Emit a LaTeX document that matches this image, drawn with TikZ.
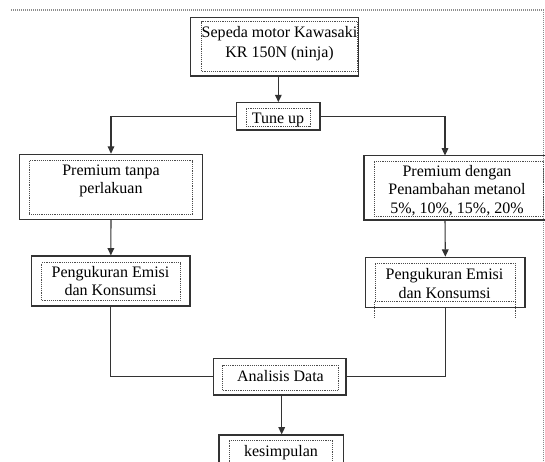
\documentclass[tikz,border=0pt]{standalone}
\usepackage{fontspec}
\setmainfont{Liberation Serif}
\usetikzlibrary{fit,arrows.meta}
\begin{document}
\begin{tikzpicture}[x=0.75pt,y=-0.75pt,
  outerbox/.style={draw=black!80,line width=0.9pt,inner sep=0pt},
  innerbox/.style={draw=black!70,line width=0.6pt,dash pattern=on 0.7pt off 0.7pt,inner sep=0pt},
  dotline/.style={draw=black!70,line width=0.6pt,dash pattern=on 0.7pt off 0.7pt},
  framel/.style={draw=black!45,line width=0.9pt,dash pattern=on 0.75pt off 0.75pt},
  lbl/.style={anchor=north,inner sep=0pt,align=center,font=\fontsize{12pt}{13.8pt}\selectfont},
  conn/.style={draw=black!80,line width=0.8pt},
  arr/.style={conn,-{Triangle[length=5.5pt,width=5pt]}}]
\useasboundingbox (0,0) rectangle (545,461);
\clip (0,0) rectangle (545,461);
% page frame
\draw[framel] (11,10) -| (543.3,470);
% boxes
\node[outerbox,fit={(190.7,17.3) (358.3,76)}] (topb) {};
\node[innerbox,fit={(201.7,21.7) (357.3,71)}] (topi) {};
\node[lbl,font=\fontsize{12pt}{14.8pt}\selectfont] (topt) at (279.5,26.6) {Sepeda motor Kawasaki\\KR 150N (ninja)};

\node[outerbox,fit={(236.7,102.7) (320,130)}] (tune) {};
\node[innerbox,fit={(246,108.3) (310,126.7)}] (tunei) {};
\node[lbl] (tunet) at (278,112.6) {Tune up};

\node[outerbox,fit={(19.3,154.3) (202.7,219.3)}] (pt) {};
\node[innerbox,fit={(29.3,160.7) (192.7,214.3)}] (pti) {};
\node[lbl] (ptt) at (111,164.4) {Premium tanpa\\perlakuan};

\node[outerbox,fit={(364,155.5) (547,220)}] (pd) {};
\node[innerbox,fit={(374,161) (543,216)}] (pdi) {};
\node[lbl] (pdt) at (457,165.1) {Premium dengan\\Penambahan metanol\\5\%, 10\%, 15\%, 20\%};

\node[outerbox,fit={(31.7,256) (190,306)}] (pkl) {};
\node[innerbox,fit={(41.7,262.7) (180,300.7)}] (pkli) {};
\node[lbl] (pklt) at (110.5,265.8) {Pengukuran Emisi\\dan Konsumsi};

\node[outerbox,fit={(365.7,257.3) (525,307.7)}] (pkr) {};
\node[innerbox,fit={(375,263.3) (515,301.7)}] (pkri) {};
\node[lbl] (pkrt) at (444.5,268.4) {Pengukuran Emisi\\dan Konsumsi};
\draw[dotline] (pkri.south west) -- ++(0,16.5);
\draw[dotline] (pkri.south east) -- ++(0,16.5);

\node[outerbox,fit={(213.3,358.3) (346,395)}] (an) {};
\node[innerbox,fit={(222.7,365) (338.3,390)}] (ani) {};
\node[lbl] (ant) at (280.5,369.8) {Analisis Data};

\node[outerbox,fit={(219,435) (343.3,480)}] (ks) {};
\node[innerbox,fit={(229.3,440) (332.7,475)}] (ksi) {};
\node[lbl] (kst) at (281,445.1) {kesimpulan};

% connectors
\coordinate (pdin) at (445,155.5);
\coordinate (anin) at (281.7,395);
\draw[arr] (topb.south -| tune.north) -- (tune.north);
\draw[arr] (tune.west) -| (pt.north);
\draw[arr] (tune.east) -| (pdin);
\draw[arr] (pt.south) -- (pkl.north);
\draw[arr] (pdin |- pd.south) -- (pkr.north);
\draw[conn] (pkl.south) |- (an.west);
\draw[conn] (pkr.south) |- (an.east);
\draw[arr] (anin) -- (anin |- ks.north);
\end{tikzpicture}
\end{document}
